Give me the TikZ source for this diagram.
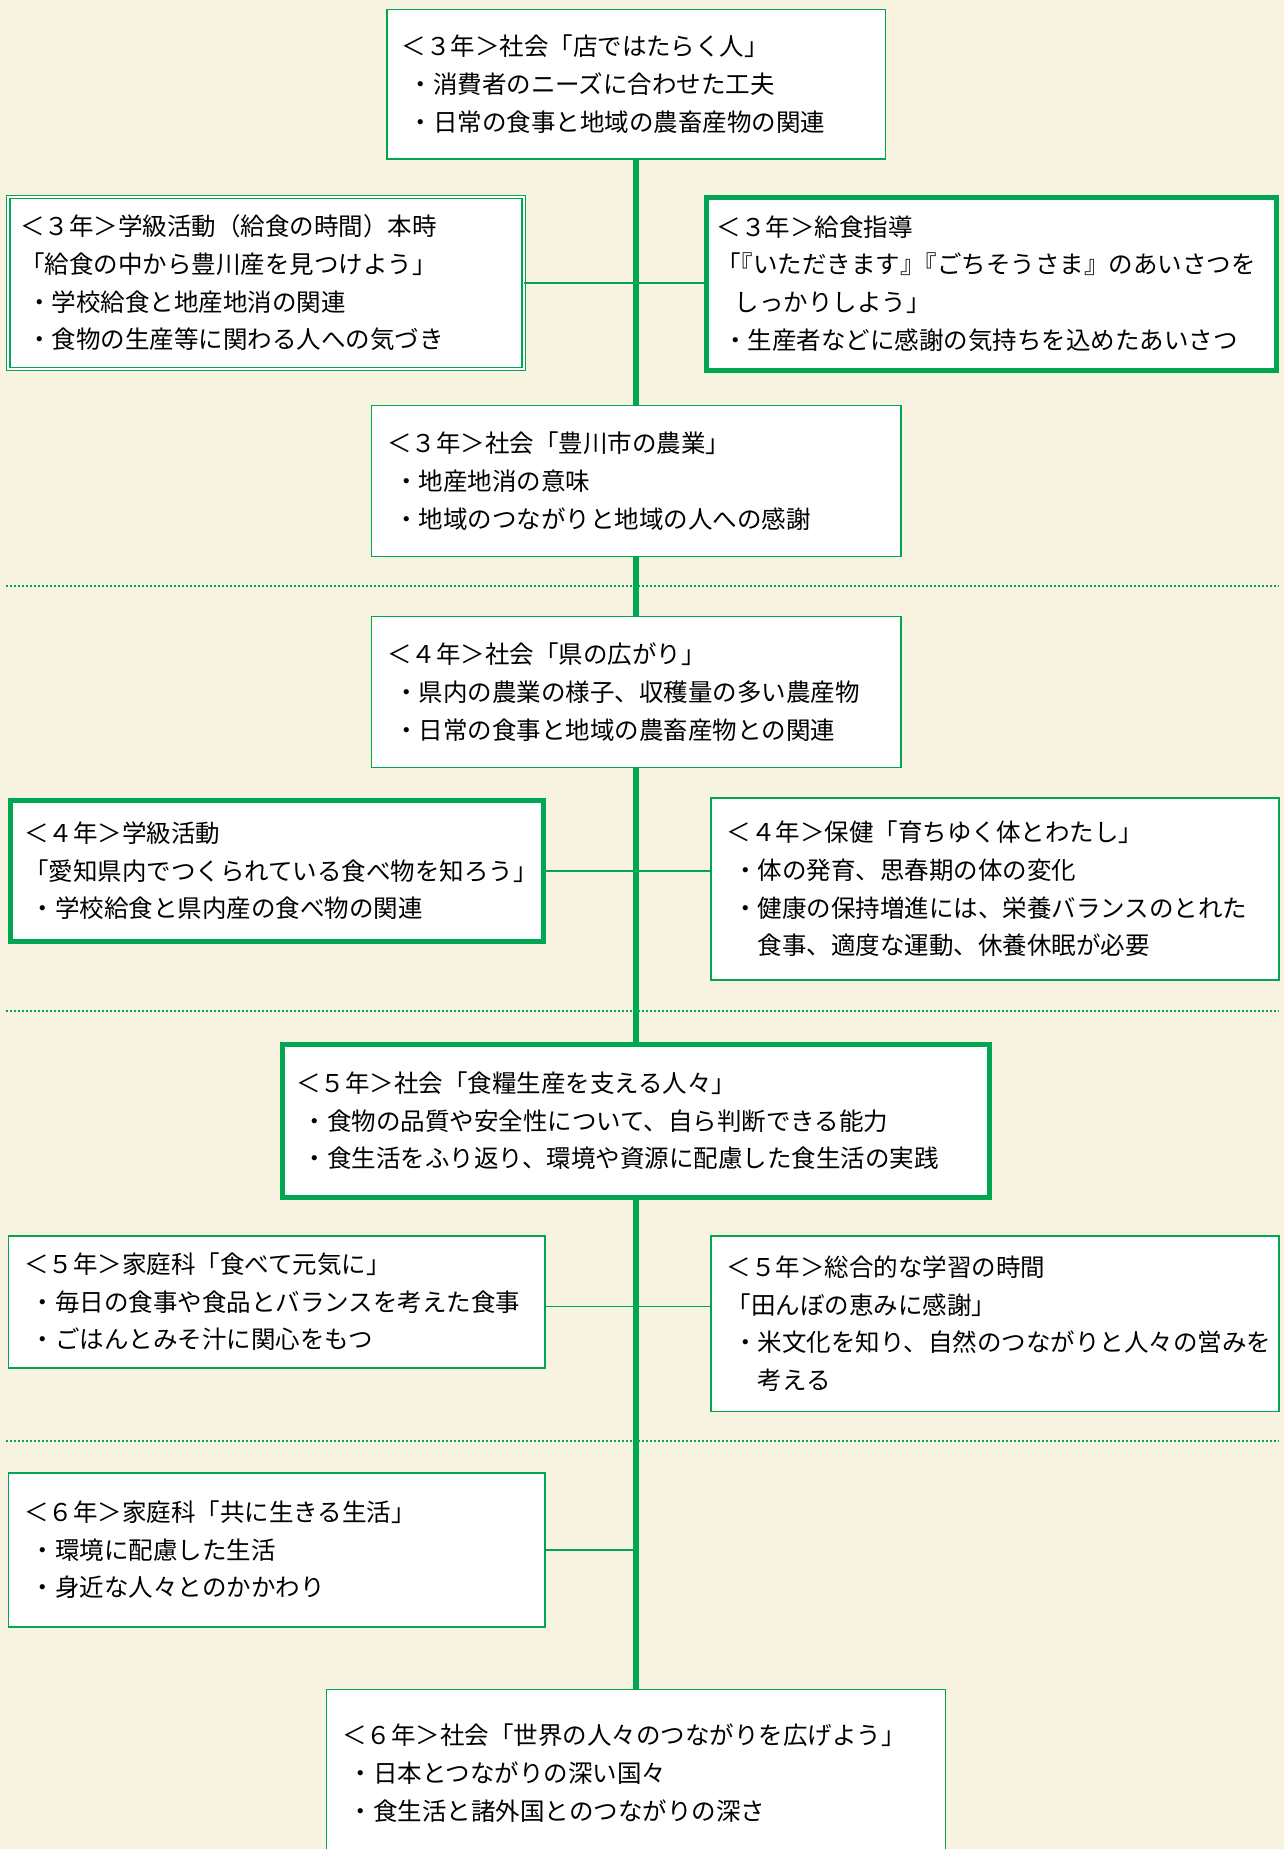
\documentclass[tikz,border=0pt]{standalone}
\usepackage{fontspec}
\newfontfamily\jp{Noto Sans CJK JP}
\definecolor{grn}{RGB}{0,166,81}
\definecolor{paper}{RGB}{248,242,224}
\newcommand\jbul{\hspace*{0.28em}・}
\newcommand\jhang{\hspace*{1.28em}}
\tikzset{
  box/.style={draw=grn, fill=white, line width=1.6pt, inner ysep=0pt, align=left,
    font=\jp\fontsize{24.5}{37.7}\selectfont},
  thickbox/.style={box, line width=5pt},
  dblbox/.style={box, line width=1.2pt, double=white, double distance=2.2pt},
  spine/.style={draw=grn, line width=6pt},
  link/.style={draw=grn, line width=1.6pt},
  sepline/.style={draw=grn, line width=2pt, dash pattern=on 2pt off 2pt},
}
\begin{document}
\begin{tikzpicture}[x=1pt,y=-1pt]
\useasboundingbox (0,0) rectangle (1284,1849);
\clip (0,0) rectangle (1284,1849);
\fill[paper] (0,0) rectangle (1284,1849);

% separators
\draw[sepline] (6,586) -- (1279,586);
\draw[sepline] (6,1010.5) -- (1279,1010.5);
\draw[sepline] (6,1440.9) -- (1279,1440.9);

\node[box, minimum width=498.8pt, minimum height=149.8pt, inner xsep=15pt, text width=468.8pt] (A) at (636.1,84.3)
 {＜３年＞社会「店ではたらく人」\\\jbul 消費者のニーズに合わせた工夫\\\jbul 日常の食事と地域の農畜産物の関連};

\node[dblbox, minimum width=515.4pt, minimum height=172.3pt, inner xsep=12pt, text width=491.4pt] (B) at (265.9,283)
 {＜３年＞学級活動（給食の時間）本時\\「給食の中から豊川産を見つけよう」\\\jbul 学校給食と地産地消の関連\\\jbul 食物の生産等に関わる人への気づき};

\node[thickbox, minimum width=570pt, minimum height=173pt, inner xsep=10pt, text width=550pt] (C) at (991.5,283.5)
 {＜３年＞給食指導\\「\kern-.5em『いただきます』\kern-.5em『ごちそうさま』のあいさつを\\\hspace*{.75em}しっかりしよう」\\\jbul 生産者などに感謝の気持ちを込めたあいさつ};

\node[box, minimum width=529.4pt, minimum height=150.9pt, inner xsep=16pt, text width=497.4pt] (D) at (636.1,481)
 {＜３年＞社会「豊川市の農業」\\\jbul 地産地消の意味\\\jbul 地域のつながりと地域の人への感謝};

\node[box, minimum width=529.4pt, minimum height=150.9pt, inner xsep=16pt, text width=497.4pt] (E) at (636.1,692.1)
 {＜４年＞社会「県の広がり」\\\jbul 県内の農業の様子、収穫量の多い農産物\\\jbul 日常の食事と地域の農畜産物との関連};

\node[thickbox, minimum width=533.6pt, minimum height=141.1pt, inner xsep=13.7pt, text width=506.2pt] (F) at (277.1,870.75)
 {＜４年＞学級活動\\「愛知県内でつくられている食べ物を知ろう」\\\jbul 学校給食と県内産の食べ物の関連};

\node[box, minimum width=568pt, minimum height=181.6pt, inner xsep=15.5pt, text width=537pt] (G) at (995,889)
 {＜４年＞保健「育ちゆく体とわたし」\\\jbul 体の発育、思春期の体の変化\\\jbul 健康の保持増進には、栄養バランスのとれた\\\jhang 食事、適度な運動、休養休眠が必要};

\node[thickbox, minimum width=707pt, minimum height=152.8pt, inner xsep=13.4pt, text width=680.2pt] (H) at (636.1,1120.7)
 {＜５年＞社会「食糧生産を支える人々」\\\jbul 食物の品質や安全性について、自ら判断できる能力\\\jbul 食生活をふり返り、環境や資源に配慮した食生活の実践};

\node[box, minimum width=536.4pt, minimum height=132.1pt, inner xsep=15.7pt, text width=505pt] (I) at (276.5,1301.75)
 {＜５年＞家庭科「食べて元気に」\\\jbul 毎日の食事や食品とバランスを考えた食事\\\jbul ごはんとみそ汁に関心をもつ};

\node[box, minimum width=568pt, minimum height=175.7pt, inner xsep=15.5pt, text width=537pt] (J) at (995,1323.55)
 {＜５年＞総合的な学習の時間\\「田んぼの恵みに感謝」\\\jbul 米文化を知り、自然のつながりと人々の営みを\\\jhang 考える};

\node[box, minimum width=536.4pt, minimum height=154.4pt, inner xsep=15.7pt, text width=505pt] (K) at (276.5,1549.9)
 {＜６年＞家庭科「共に生きる生活」\\\jbul 環境に配慮した生活\\\jbul 身近な人々とのかかわり};

\node[box, minimum width=619pt, minimum height=166.8pt, inner xsep=15.4pt, text width=588.2pt] (L) at (636.1,1773)
 {＜６年＞社会「世界の人々のつながりを広げよう」\\\jbul 日本とつながりの深い国々\\\jbul 食生活と諸外国とのつながりの深さ};

% spine
\draw[spine] (A.south) -- (D.north);
\draw[spine] (D.south) -- (E.north);
\draw[spine] (E.south) -- (H.north);
\draw[spine] (H.south) -- (L.north);

% branches
\draw[link] (B.east) -- (B.east -| C.west);
\draw[link] (F.east) -- (F.east -| G.west);
\draw[link] ([yshift=-4.6pt]I.east) -- ([yshift=-4.6pt]I.east -| J.west);
\draw[link] (K.east) -- (K.east -| H.south);
\end{tikzpicture}
\end{document}
